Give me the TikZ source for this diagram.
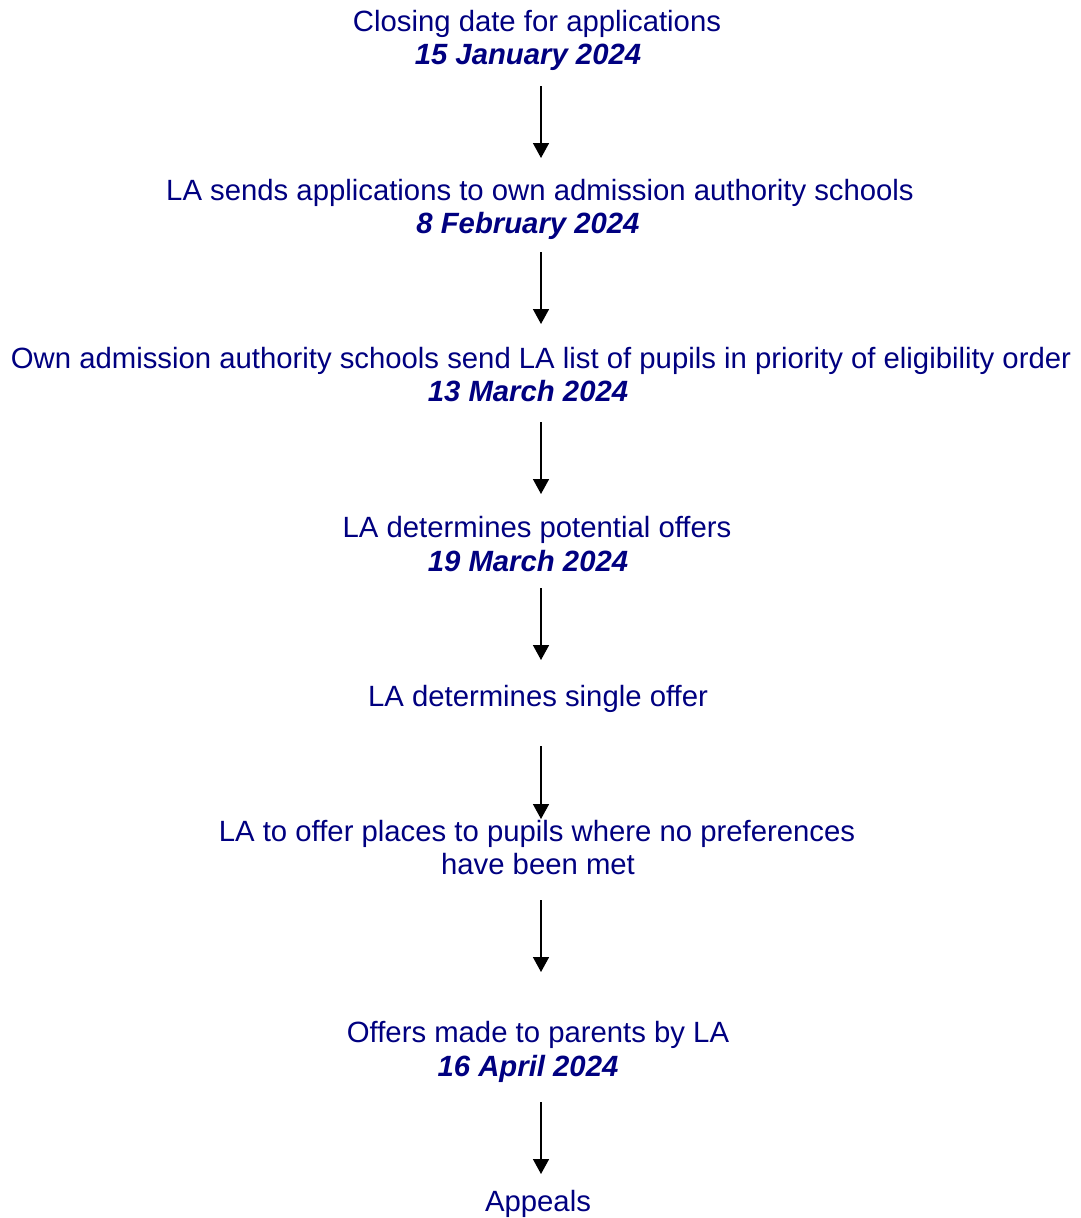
\documentclass[tikz,border=0pt]{standalone}
\usepackage{fontspec}
\setmainfont{Liberation Sans}
\usetikzlibrary{arrows.meta}
\definecolor{navytext}{HTML}{000080}
\tikzset{
  lbl/.style={anchor=base, inner sep=0pt, text=navytext, font=\fontsize{29.3}{34}\selectfont},
  datelbl/.style={lbl, font=\fontsize{29.3}{34}\selectfont\bfseries\itshape},
  flow/.style={line width=1.6pt, draw=black, -{Triangle[width=16pt,length=15pt]}}
}
\begin{document}
\begin{tikzpicture}[x=1pt,y=-1pt]
\useasboundingbox (0,0) rectangle (1080,1218);
\node[lbl] (t1) at (537,31.5) {Closing date for applications};
\node[datelbl] (d1) at (528,64.5) {15 January 2024};
\node[lbl] (t2) at (540,200) {LA sends applications to own admission authority schools};
\node[datelbl] (d2) at (528,233) {8 February 2024};
\node[lbl] (t3) at (541,368) {Own admission authority schools send LA list of pupils in priority of eligibility order};
\node[datelbl] (d3) at (528,401) {13 March 2024};
\node[lbl] (t4) at (537,537) {LA determines potential offers};
\node[datelbl] (d4) at (528,571) {19 March 2024};
\node[lbl] (t5) at (538,706) {LA determines single offer};
\node[lbl] (t6) at (537,841) {LA to offer places to pupils where no preferences};
\node[lbl] (t6b) at (538,874) {have been met};
\node[lbl] (t7) at (538,1042) {Offers made to parents by LA};
\node[datelbl] (d7) at (528,1076) {16 April 2024};
\node[lbl] (t8) at (538,1211) {Appeals};
\coordinate (a1s) at (541,86);   \coordinate (a1e) at (541,158);
\coordinate (a2s) at (541,252);  \coordinate (a2e) at (541,324);
\coordinate (a3s) at (541,422);  \coordinate (a3e) at (541,494);
\coordinate (a4s) at (541,588);  \coordinate (a4e) at (541,660);
\coordinate (a5s) at (541,746);  \coordinate (a5e) at (541,819);
\coordinate (a6s) at (541,900);  \coordinate (a6e) at (541,972);
\coordinate (a7s) at (541,1102); \coordinate (a7e) at (541,1174);
\draw[flow] (a1s) -- (a1e);
\draw[flow] (a2s) -- (a2e);
\draw[flow] (a3s) -- (a3e);
\draw[flow] (a4s) -- (a4e);
\draw[flow] (a5s) -- (a5e);
\draw[flow] (a6s) -- (a6e);
\draw[flow] (a7s) -- (a7e);
\end{tikzpicture}
\end{document}
